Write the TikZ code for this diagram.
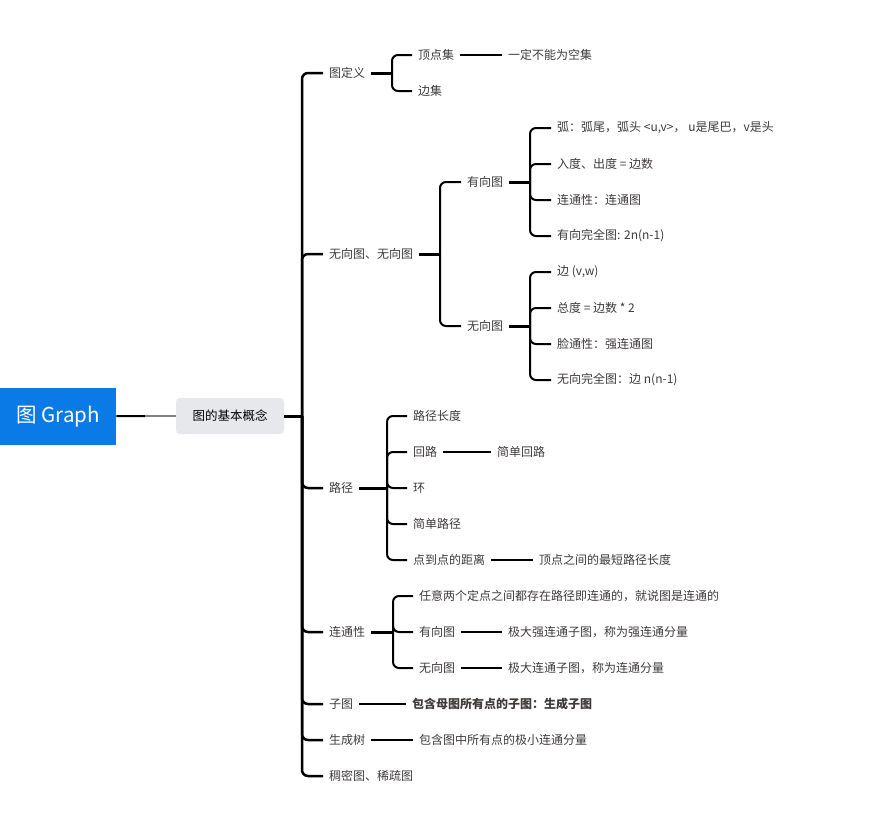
\documentclass[tikz,border=0pt]{standalone}
\usepackage{fontspec}
\setmainfont{Noto Sans CJK SC}
\definecolor{rootblue}{HTML}{0A7BE6}
\definecolor{boxgrey}{HTML}{E6E8EB}
\definecolor{txt}{HTML}{3F3A3A}
\tikzset{
	item/.style={anchor=west, inner xsep=6pt, inner ysep=2pt, text=txt, font=\fontsize{12}{14}\selectfont},
	link/.style={line width=2pt, rounded corners=6pt},
	stub/.style={line width=3pt},
	leaf/.style={line width=1.8pt},
}

\begin{document}
\begin{tikzpicture}[x=1pt,y=-1pt]
			\useasboundingbox (0,0) rectangle (875,831);
			% root and centre box
			\node[fill=rootblue, text=white, minimum width=116pt, minimum height=57pt, anchor=north west, inner sep=0pt, font=\fontsize{20.5}{24}\selectfont] (root) at (0,388) {图 Graph};
			\node[fill=boxgrey, rounded corners=4pt, minimum width=108pt, minimum height=36pt, inner sep=0pt, font=\fontsize{12.5}{15}\selectfont] (base) at (230,416) {图的基本概念};
			\coordinate (mid) at (145,416);
			\draw[line width=2pt] (root) -- (mid);
			\draw[line width=1.5pt, gray] (mid) -- (base);
			\coordinate (trunk) at (302,416);
			\draw[stub] (base) -- (trunk);
			
			% first level
			\node[item] (def) at (323,73) {图定义};
			\node[item] (kind) at (323,254) {无向图、无向图};
			\node[item] (path) at (323,488) {路径};
			\node[item] (conn) at (323,632) {连通性};
			\node[item] (sub) at (323,704) {子图};
			\node[item] (tree) at (323,740) {生成树};
			\node[item] (dense) at (323,776) {稠密图、稀疏图};
			\foreach \n in {def,kind,path,conn,sub,tree,dense}
				\draw[link, line width=2.5pt] (trunk) |- (\n.west);
			
			% 图定义
			\coordinate (defj) at (392,73);
			\draw[stub] (def) -- (defj);
			\node[item] (vset) at (412,55) {顶点集};
			\node[item] (eset) at (412,91) {边集};
			\foreach \n in {vset,eset}
				\draw[link] (defj) |- (\n.west);
			\node[item] (vnote) at (502,55) {一定不能为空集};
			\draw[leaf] (vset) -- (vnote);
			
			% 有向图 / 无向图
			\coordinate (kindj) at (440,254);
			\draw[stub] (kind) -- (kindj);
			\node[item] (dir) at (461,182) {有向图};
			\node[item] (undir) at (461,326) {无向图};
			\foreach \n in {dir,undir}
				\draw[link] (kindj) |- (\n.west);
			
			\coordinate (dirj) at (530,182);
			\draw[stub] (dir) -- (dirj);
			\node[item] (arc) at (551,128) {弧：弧尾，弧头 <u,v>， u是尾巴，v是头};
			\node[item] (deg) at (551,164) {入度、出度 = 边数};
			\node[item] (dconn) at (551,200) {连通性：连通图};
			\node[item] (dfull) at (551,236) {有向完全图: 2n(n-1)};
			\foreach \n in {arc,deg,dconn,dfull}
				\draw[link] (dirj) |- (\n.west);
			
			\coordinate (undirj) at (530,326);
			\draw[stub] (undir) -- (undirj);
			\node[item] (edge) at (551,272) {边 (v,w)};
			\node[item] (udeg) at (551,308) {总度 = 边数 * 2};
			\node[item] (uconn) at (551,344) {脸通性：强连通图};
			\node[item] (ufull) at (551,380) {无向完全图：边 n(n-1)};
			\foreach \n in {edge,udeg,uconn,ufull}
				\draw[link] (undirj) |- (\n.west);
			
			% 路径
			\coordinate (pathj) at (387,488);
			\draw[stub] (path) -- (pathj);
			\node[item] (plen) at (407,416) {路径长度};
			\node[item] (loop) at (407,452) {回路};
			\node[item] (ring) at (407,488) {环};
			\node[item] (spath) at (407,524) {简单路径};
			\node[item] (dist) at (407,560) {点到点的距离};
			\foreach \n in {plen,loop,ring,spath,dist}
				\draw[link] (pathj) |- (\n.west);
			\node[item] (sloop) at (491,452) {简单回路};
			\draw[leaf] (loop) -- (sloop);
			\node[item] (short) at (533,560) {顶点之间的最短路径长度};
			\draw[leaf] (dist) -- (short);
			
			% 连通性
			\coordinate (connj) at (393,632);
			\draw[stub] (conn) -- (connj);
			\node[item] (any) at (413,596) {任意两个定点之间都存在路径即连通的，就说图是连通的};
			\node[item] (cdir) at (413,632) {有向图};
			\node[item] (cundir) at (413,668) {无向图};
			\foreach \n in {any,cdir,cundir}
				\draw[link] (connj) |- (\n.west);
			\node[item] (cdirnote) at (502,632) {极大强连通子图，称为强连通分量};
			\draw[leaf] (cdir) -- (cdirnote);
			\node[item] (cundirnote) at (502,668) {极大连通子图，称为连通分量};
			\draw[leaf] (cundir) -- (cundirnote);
			
			% 子图, 生成树
			\node[item, font=\fontsize{12}{14}\selectfont\bfseries] (subnote) at (406,704) {包含母图所有点的子图：生成子图};
			\draw[leaf] (sub) -- (subnote);
			\node[item] (treenote) at (413,740) {包含图中所有点的极小连通分量};
			\draw[leaf] (tree) -- (treenote);
\end{tikzpicture}
\end{document}
